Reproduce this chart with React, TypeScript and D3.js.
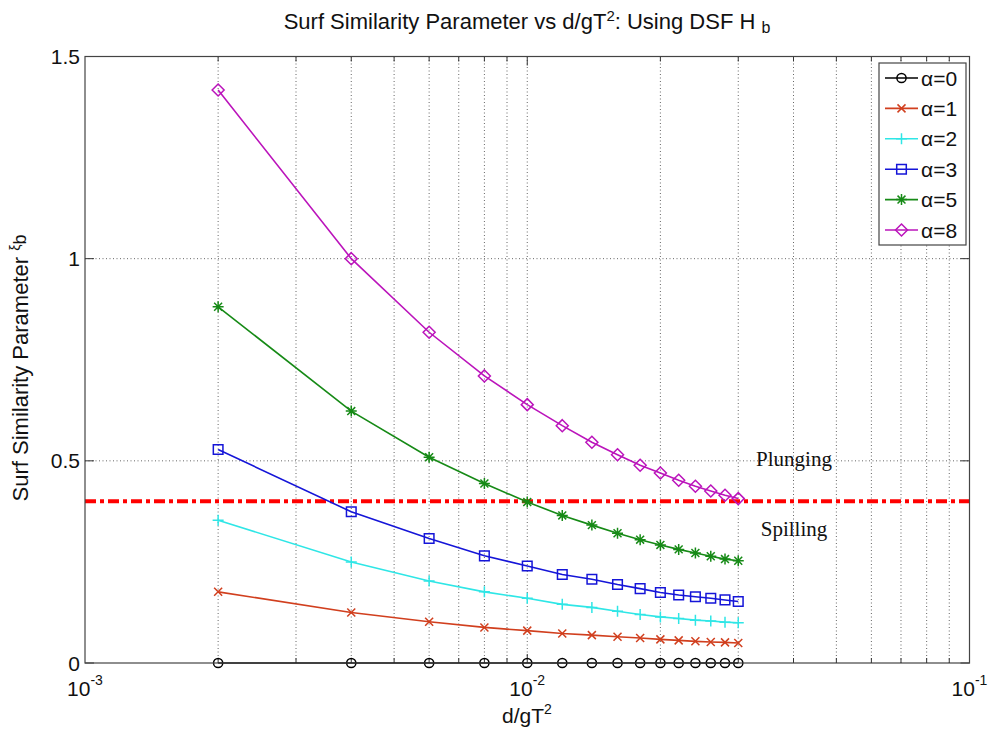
import React from "react";
import * as d3 from "d3";

const xValues = [0.002, 0.004, 0.006, 0.008, 0.010, 0.012, 0.014, 0.016, 0.018, 0.020, 0.022, 0.024, 0.026, 0.028, 0.030];
const alpha0 = [0, 0, 0, 0, 0, 0, 0, 0, 0, 0, 0, 0, 0, 0, 0];
const alpha1 = [0.176, 0.125, 0.102, 0.088, 0.080, 0.073, 0.069, 0.065, 0.062, 0.0585, 0.056, 0.0536, 0.052, 0.051, 0.0494];
const alpha2 = [0.353, 0.250, 0.203, 0.176, 0.160, 0.145, 0.1375, 0.128, 0.120, 0.114, 0.110, 0.106, 0.104, 0.101, 0.0995];
const alpha3 = [0.528, 0.374, 0.308, 0.265, 0.240, 0.219, 0.207, 0.194, 0.184, 0.1745, 0.168, 0.164, 0.160, 0.156, 0.152];
const alpha5 = [0.881, 0.623, 0.509, 0.444, 0.398, 0.365, 0.341, 0.321, 0.305, 0.292, 0.281, 0.272, 0.264, 0.257, 0.253];
const alpha8 = [1.417, 1.0, 0.818, 0.710, 0.639, 0.587, 0.546, 0.515, 0.489, 0.470, 0.452, 0.437, 0.4255, 0.415, 0.4066];

const seriesNames = ["α=0", "α=1", "α=2", "α=3", "α=5", "α=8"];
const seriesValues = [alpha0, alpha1, alpha2, alpha3, alpha5, alpha8];
const seriesColors = ["#000000", "#d13f1e", "#2fe6e6", "#1515d8", "#168a16", "#bb14bb"];
const seriesMarkers = ["circle", "x", "plus", "square", "star", "diamond"];

const yTicks = [0, 0.5, 1, 1.5];
const xMajor = [-3, -2, -1];
const thresholdValue = 0.4;

const W = 991, H = 731;
const L = 85, R = 969.5, T = 56.5, B = 663;

function markerPath(type: string, s: number): string {
  switch (type) {
    case "circle": {
      const r = s;
      return `M${-r},0A${r},${r} 0 1,0 ${r},0A${r},${r} 0 1,0 ${-r},0Z`;
    }
    case "x":
      return `M${-s},${-s}L${s},${s}M${-s},${s}L${s},${-s}`;
    case "plus":
      return `M${-s},0L${s},0M0,${-s}L0,${s}`;
    case "square":
      return `M${-s},${-s}H${s}V${s}H${-s}Z`;
    case "star": {
      const d = s * 0.72;
      return `M${-s},0L${s},0M0,${-s}L0,${s}M${-d},${-d}L${d},${d}M${-d},${d}L${d},${-d}`;
    }
    case "diamond":
      return `M0,${-s}L${s},0L0,${s}L${-s},0Z`;
  }
  return "";
}
const markerSize: Record<string, number> = { circle: 4.6, x: 4, plus: 5.5, square: 4.8, star: 5.5, diamond: 6 };

export default function App() {
  const x = d3.scaleLog().domain([1e-3, 1e-1]).range([L, R]);
  const y = d3.scaleLinear().domain([0, 1.5]).range([B, T]);

  const gridX: number[] = [];
  for (const e of [-3, -2]) {
    for (let k = 1; k <= 9; k++) {
      const v = k * Math.pow(10, e);
      if (v > 1e-3 && v < 1e-1) gridX.push(v);
    }
  }

  const line = d3.line<number>().x((_, i) => x(xValues[i])).y((d) => y(d));

  const tickFont = "Liberation Sans, Arial, sans-serif";
  const legX = 879, legY = 63, legW = 87, legH = 182;

  return (
    <svg width={W} height={H} style={{ position: "absolute", left: 0, top: 0, background: "#fff" }} fontFamily={tickFont}>
      <rect x={0} y={0} width={W} height={H} fill="#fff" />
      {gridX.map((v, i) => (
        <line key={"gx" + i} x1={x(v)} x2={x(v)} y1={T} y2={B} stroke="#666" strokeWidth={1} strokeDasharray="1,2.5" />
      ))}
      {yTicks.filter((t) => t > 0 && t < 1.5).map((t) => (
        <line key={"gy" + t} x1={L} x2={R} y1={y(t)} y2={y(t)} stroke="#666" strokeWidth={1} strokeDasharray="1,2.5" />
      ))}
      {gridX.map((v, i) => {
        const major = Math.abs(Math.log10(v) - Math.round(Math.log10(v))) < 1e-9;
        const len = major ? 9 : 5;
        return (
          <g key={"tk" + i} stroke="#333" strokeWidth={1}>
            <line x1={x(v)} x2={x(v)} y1={B} y2={B - len} />
            <line x1={x(v)} x2={x(v)} y1={T} y2={T + len} />
          </g>
        );
      })}
      {yTicks.map((t) => (
        <g key={"ytk" + t} stroke="#333" strokeWidth={1}>
          <line x1={L} x2={L + 9} y1={y(t)} y2={y(t)} />
          <line x1={R} x2={R - 9} y1={y(t)} y2={y(t)} />
        </g>
      ))}
      <line x1={L} x2={R} y1={y(thresholdValue)} y2={y(thresholdValue)} stroke="#ff0000" strokeWidth={4} strokeDasharray="11,4,4,4" />
      {seriesValues.map((vals, si) => (
        <g key={"s" + si}>
          <path d={line(vals) || ""} fill="none" stroke={seriesColors[si]} strokeWidth={1.6} />
          {vals.map((v, i) => (
            <path
              key={i}
              d={markerPath(seriesMarkers[si], markerSize[seriesMarkers[si]])}
              transform={`translate(${x(xValues[i])},${y(v)})`}
              fill="none"
              stroke={seriesColors[si]}
              strokeWidth={1.5}
            />
          ))}
        </g>
      ))}
      <rect x={L} y={T} width={R - L} height={B - T} fill="none" stroke="#444" strokeWidth={1.2} />
      {yTicks.map((t) => (
        <text key={"yl" + t} x={80} y={y(t) + 7.5} textAnchor="end" fontSize={21} fill="#111">
          {d3.format("")(t)}
        </text>
      ))}
      {xMajor.map((e) => (
        <text key={"xl" + e} x={x(Math.pow(10, e))} y={696} textAnchor="middle" fontSize={21} fill="#111">
          10<tspan dy={-11} fontSize={14}>{String(e)}</tspan>
        </text>
      ))}
      <text x={794} y={466} textAnchor="middle" fontFamily="Liberation Serif, Times New Roman, serif" fontSize={21} fill="#111">Plunging</text>
      <text x={794} y={536} textAnchor="middle" fontFamily="Liberation Serif, Times New Roman, serif" fontSize={21} fill="#111">Spilling</text>
      <text x={527} y={29} textAnchor="middle" fontSize={22} fill="#111">
        Surf Similarity Parameter vs d/gT<tspan dy={-8} fontSize={15}>2</tspan><tspan dy={8}>: Using DSF H </tspan><tspan dy={4} fontSize={16}>b</tspan>
      </text>
      <text x={527} y={723} textAnchor="middle" fontSize={21} fill="#111">
        d/gT<tspan dy={-9} fontSize={14}>2</tspan>
      </text>
      <text transform={`translate(28,368) rotate(-90)`} textAnchor="middle" fontSize={22} fill="#111">
        Surf Similarity Parameter <tspan dy={-8} fontSize={14}>ξ</tspan><tspan dy={6} fontSize={18}>b</tspan>
      </text>
      <rect x={legX} y={legY} width={legW} height={legH} fill="#fff" stroke="#444" strokeWidth={1.2} />
      {seriesNames.map((name, si) => {
        const ly = 78 + si * 30.4;
        return (
          <g key={"lg" + si}>
            <line x1={885} x2={918} y1={ly} y2={ly} stroke={seriesColors[si]} strokeWidth={1.6} />
            <path d={markerPath(seriesMarkers[si], markerSize[seriesMarkers[si]])} transform={`translate(901.5,${ly})`} fill="none" stroke={seriesColors[si]} strokeWidth={1.5} />
            <text x={921} y={ly + 7.5} fontSize={21} fill="#111">{name}</text>
          </g>
        );
      })}
    </svg>
  );
}
